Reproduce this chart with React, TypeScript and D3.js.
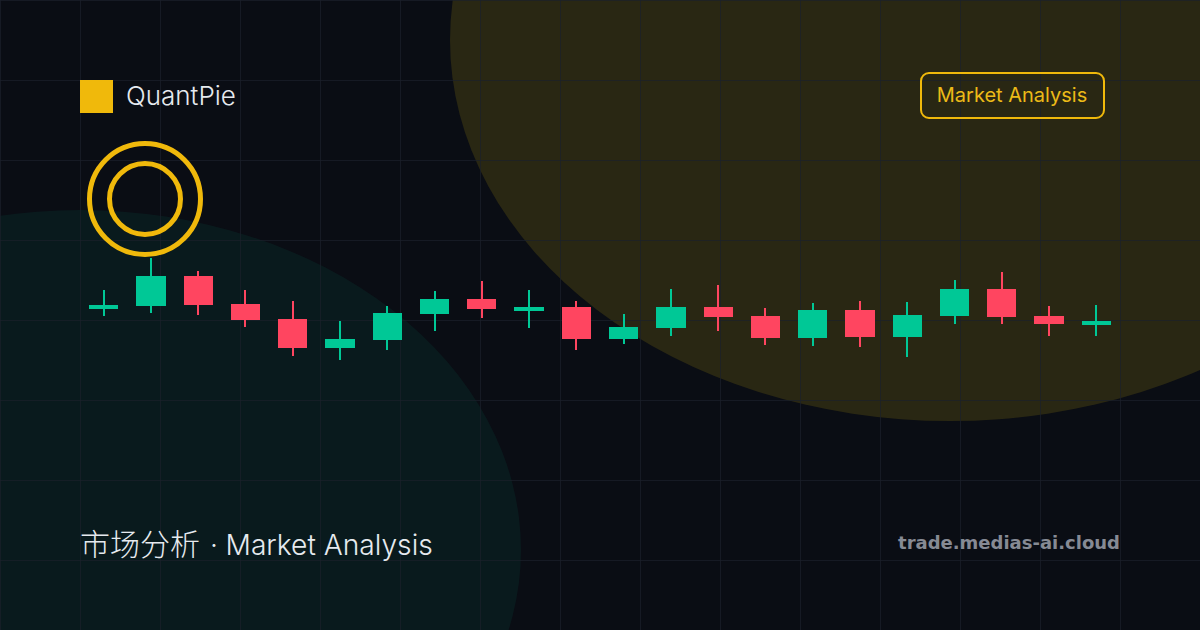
import { useEffect, useRef } from 'react';
import * as d3 from 'd3';

const WIDTH = 1200;
const HEIGHT = 630;

const BG_COLOR = '#0a0d14';
const GRID_COLOR = '#1b212b';
const GOLD = '#f0b90b';
const BLOB_GOLD = '#e8c40c';
const UP_COLOR = '#00c896';
const DOWN_COLOR = '#ff4560';
const TEXT_COLOR = '#e6eaef';

// Candle values
const sessions = d3.range(1, 23).map(String);
const opens = [102.2, 102.8, 108.8, 103.2, 100.2, 94.4, 96, 101.2, 104.2, 101.8, 102.6, 96.2, 98.4, 102.6, 100.8, 96.4, 102, 96.6, 100.8, 106.2, 100.8, 99];
const closes = [103, 108.8, 103, 100, 94.4, 96.2, 101.4, 104.2, 102.2, 102.6, 96.2, 98.6, 102.6, 100.6, 96.4, 102, 96.6, 101, 106.2, 100.6, 99.2, 99.8];
const highs = [106, 112.4, 109.8, 106, 103.8, 99.8, 102.8, 105.8, 107.8, 106, 103.8, 101.2, 106.2, 107, 102.4, 103.4, 103.8, 103.6, 108, 109.6, 102.8, 103];
const lows = [100.8, 101.4, 101, 98.6, 92.8, 92, 94, 97.8, 100.4, 98.4, 94, 95.2, 96.8, 97.8, 95, 94.8, 94.6, 92.6, 99.2, 99.2, 96.8, 96.8];

export default function App() {
  const svgRef = useRef<SVGSVGElement>(null);

  useEffect(() => {
    if (!svgRef.current) return;
    const svg = d3.select(svgRef.current);
    svg.selectAll('*').remove();

    const xScale = d3.scaleBand<string>()
      .domain(sessions)
      .range([80, 1120])
      .paddingInner(0.38)
      .paddingOuter(0.19);

    // 10 price units = 50px
    const yScale = d3.scaleLinear().domain([100, 110]).range([320, 270]);

    svg.append('rect')
      .attr('width', WIDTH)
      .attr('height', HEIGHT)
      .attr('fill', BG_COLOR);

    // Background blobs
    svg.append('ellipse')
      .attr('cx', 950)
      .attr('cy', 40)
      .attr('rx', 500)
      .attr('ry', 381)
      .attr('fill', BLOB_GOLD)
      .attr('fill-opacity', 0.14);

    svg.append('ellipse')
      .attr('cx', 80)
      .attr('cy', 550)
      .attr('rx', 441)
      .attr('ry', 340)
      .attr('fill', UP_COLOR)
      .attr('fill-opacity', 0.07);

    // Grid
    const gridX = d3.range(0, WIDTH, 80);
    const gridY = d3.range(0, HEIGHT, 80);
    const grid = svg.append('g').attr('stroke-opacity', 0.7);
    grid.append('g')
      .selectAll('line')
      .data(gridX)
      .join('line')
      .attr('x1', d => d + 0.5)
      .attr('x2', d => d + 0.5)
      .attr('y1', 0)
      .attr('y2', HEIGHT)
      .attr('stroke', GRID_COLOR);
    grid.append('g')
      .selectAll('line')
      .data(gridY)
      .join('line')
      .attr('x1', 0)
      .attr('x2', WIDTH)
      .attr('y1', d => d + 0.5)
      .attr('y2', d => d + 0.5)
      .attr('stroke', GRID_COLOR);

    // Candles
    const candles = sessions.map((s, i) => ({
      s,
      open: opens[i],
      close: closes[i],
      high: highs[i],
      low: lows[i],
    }));
    const color = (d: { open: number; close: number }) => (d.close >= d.open ? UP_COLOR : DOWN_COLOR);
    const candle = svg.append('g')
      .attr('shape-rendering', 'crispEdges')
      .selectAll('g')
      .data(candles)
      .join('g');

    candle.append('line')
      .attr('x1', d => xScale(d.s)! + xScale.bandwidth() / 2)
      .attr('x2', d => xScale(d.s)! + xScale.bandwidth() / 2)
      .attr('y1', d => yScale(d.high))
      .attr('y2', d => yScale(d.low))
      .attr('stroke', color)
      .attr('stroke-width', 2);

    candle.append('rect')
      .attr('x', d => xScale(d.s)!)
      .attr('width', xScale.bandwidth())
      .attr('y', d => yScale(Math.max(d.open, d.close)))
      .attr('height', d => Math.abs(yScale(d.open) - yScale(d.close)))
      .attr('fill', color);

    // Logo + rings
    svg.append('rect')
      .attr('x', 80)
      .attr('y', 80)
      .attr('width', 33)
      .attr('height', 33)
      .attr('fill', GOLD);

    svg.append('text')
      .attr('x', 126)
      .attr('y', 105)
      .attr('font-family', 'Inter, sans-serif')
      .attr('font-weight', 300)
      .attr('font-size', 26)
      .attr('fill', TEXT_COLOR)
      .text('QuantPie');

    svg.append('circle')
      .attr('cx', 145)
      .attr('cy', 199)
      .attr('r', 55.5)
      .attr('fill', 'none')
      .attr('stroke', GOLD)
      .attr('stroke-width', 5);

    svg.append('circle')
      .attr('cx', 145)
      .attr('cy', 199)
      .attr('r', 35.5)
      .attr('fill', 'none')
      .attr('stroke', GOLD)
      .attr('stroke-width', 5);

    // Badge
    svg.append('rect')
      .attr('x', 921)
      .attr('y', 73)
      .attr('width', 183)
      .attr('height', 45)
      .attr('rx', 8)
      .attr('fill', 'none')
      .attr('stroke', GOLD)
      .attr('stroke-width', 2);

    svg.append('text')
      .attr('x', 1012)
      .attr('y', 102)
      .attr('text-anchor', 'middle')
      .attr('font-family', 'Inter, sans-serif')
      .attr('font-size', 20)
      .attr('fill', '#ecba18')
      .text('Market Analysis');

    // Footer
    const footer = svg.append('text')
      .attr('y', 555)
      .attr('font-family', "Inter, 'Noto Sans CJK SC', sans-serif")
      .attr('font-weight', 300)
      .attr('fill', TEXT_COLOR);
    footer.append('tspan')
      .attr('x', 80)
      .attr('font-size', 30)
      .attr('font-family', "'Noto Sans CJK SC', sans-serif")
      .text('市场分析');
    footer.append('tspan')
      .attr('x', 210)
      .attr('font-size', 28)
      .text('·');
    footer.append('tspan')
      .attr('x', 225.5)
      .attr('font-size', 28.2)
      .text('Market Analysis');

    svg.append('text')
      .attr('x', 1120)
      .attr('y', 549)
      .attr('text-anchor', 'end')
      .attr('font-family', "'DejaVu Sans', sans-serif")
      .attr('font-weight', 700)
      .attr('font-size', 18)
      .attr('fill', '#868a94')
      .text('trade.medias-ai.cloud');
  }, []);

  return (
    <svg
      ref={svgRef}
      width={WIDTH}
      height={HEIGHT}
      viewBox={`0 0 ${WIDTH} ${HEIGHT}`}
      style={{ position: 'absolute', left: 0, top: 0, display: 'block' }}
    />
  );
}
